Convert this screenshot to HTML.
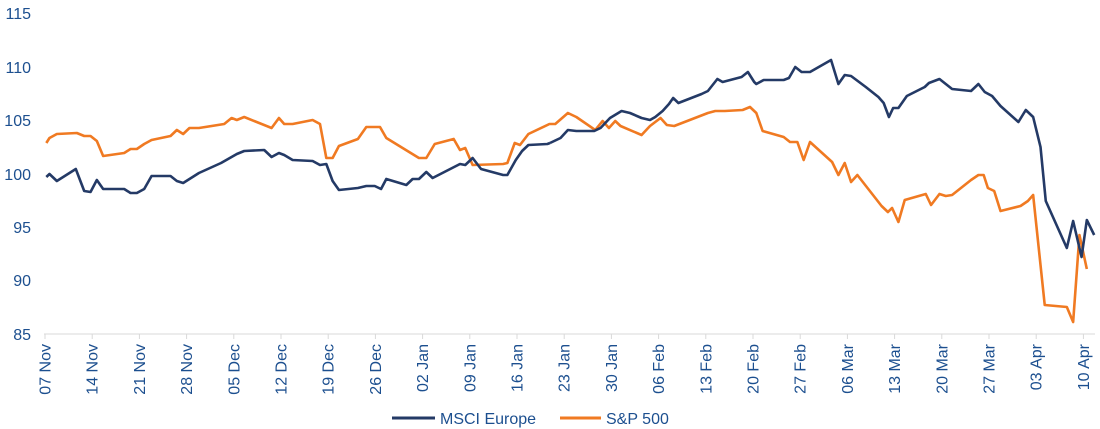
<!DOCTYPE html>
<html><head><meta charset="utf-8"><style>
body{margin:0;background:#fff;}
svg{display:block;font-family:"Liberation Sans",sans-serif;}
.yl{font-size:16px;fill:#1c4f8f;text-anchor:end;}
.xl{font-size:16px;fill:#1c4f8f;text-anchor:end;}
polyline{vector-effect:non-scaling-stroke;}
</style></head><body>
<svg width="1100" height="429" viewBox="0 0 1100 429">
<g class="yl">
<text x="31" y="19">115</text><text x="31" y="73">110</text><text x="31" y="126">105</text>
<text x="31" y="180">100</text><text x="31" y="233">95</text><text x="31" y="286">90</text><text x="31" y="340">85</text>
</g>
<line x1="44" y1="334" x2="1095" y2="334" stroke="#d9d9d9" stroke-width="1"/>
<g stroke="#d9d9d9" stroke-width="1">
<line x1="45" y1="334" x2="45" y2="339"/><line x1="92.2" y1="334" x2="92.2" y2="339"/><line x1="139.4" y1="334" x2="139.4" y2="339"/><line x1="186.6" y1="334" x2="186.6" y2="339"/><line x1="233.8" y1="334" x2="233.8" y2="339"/><line x1="281" y1="334" x2="281" y2="339"/><line x1="328.2" y1="334" x2="328.2" y2="339"/><line x1="375.4" y1="334" x2="375.4" y2="339"/><line x1="422.6" y1="334" x2="422.6" y2="339"/><line x1="469.8" y1="334" x2="469.8" y2="339"/><line x1="517" y1="334" x2="517" y2="339"/><line x1="564.2" y1="334" x2="564.2" y2="339"/><line x1="611.4" y1="334" x2="611.4" y2="339"/><line x1="658.6" y1="334" x2="658.6" y2="339"/><line x1="705.8" y1="334" x2="705.8" y2="339"/><line x1="753" y1="334" x2="753" y2="339"/><line x1="800.2" y1="334" x2="800.2" y2="339"/><line x1="847.4" y1="334" x2="847.4" y2="339"/><line x1="894.6" y1="334" x2="894.6" y2="339"/><line x1="941.8" y1="334" x2="941.8" y2="339"/><line x1="989" y1="334" x2="989" y2="339"/><line x1="1036.2" y1="334" x2="1036.2" y2="339"/><line x1="1083.4" y1="334" x2="1083.4" y2="339"/>
</g>
<g class="xl">
<text transform="translate(50.5,344) rotate(-90)">07 Nov</text>
<text transform="translate(97.7,344) rotate(-90)">14 Nov</text>
<text transform="translate(144.9,344) rotate(-90)">21 Nov</text>
<text transform="translate(192.1,344) rotate(-90)">28 Nov</text>
<text transform="translate(239.3,344) rotate(-90)">05 Dec</text>
<text transform="translate(286.5,344) rotate(-90)">12 Dec</text>
<text transform="translate(333.7,344) rotate(-90)">19 Dec</text>
<text transform="translate(380.9,344) rotate(-90)">26 Dec</text>
<text transform="translate(428.1,344) rotate(-90)">02 Jan</text>
<text transform="translate(475.3,344) rotate(-90)">09 Jan</text>
<text transform="translate(522.5,344) rotate(-90)">16 Jan</text>
<text transform="translate(569.7,344) rotate(-90)">23 Jan</text>
<text transform="translate(616.9,344) rotate(-90)">30 Jan</text>
<text transform="translate(664.1,344) rotate(-90)">06 Feb</text>
<text transform="translate(711.3,344) rotate(-90)">13 Feb</text>
<text transform="translate(758.5,344) rotate(-90)">20 Feb</text>
<text transform="translate(805.7,344) rotate(-90)">27 Feb</text>
<text transform="translate(852.9,344) rotate(-90)">06 Mar</text>
<text transform="translate(900.1,344) rotate(-90)">13 Mar</text>
<text transform="translate(947.3,344) rotate(-90)">20 Mar</text>
<text transform="translate(994.5,344) rotate(-90)">27 Mar</text>
<text transform="translate(1041.7,344) rotate(-90)">03 Apr</text>
<text transform="translate(1088.9,344) rotate(-90)">10 Apr</text>
</g>
<g transform="scale(1.0526,1)" fill="none" stroke-width="2.6" stroke-linejoin="round">
<polyline stroke="#f07a22" points="44,143 47,138 54,134 73,133 80,136 86,136 92,141 98,156 118,153 124,149 130,149 137,144 144,140 162,136 168,130 174,134 180,128 189,128 213,124 220,118 225,120 232,117 258,128 265,118 270,124 278,124 297,120 304,124 310,158 316,158 322,146 340,139 348,127 361,127 367,138 398,158 405,158 413,144 431,139 437,150 442,148 449,165 478,164 482,163 489,143 494,145 502,134 522,124 522.5,124"/>
<polyline stroke="#243a66" points="44,177 47,174 54,181 72,169 80,191 86,192 92,180 98,189 118,189 124,193 130,193 137,189 144,176 162,176 168,181 174,183 180,179 189,173 210,163 225,154 232,151 251,150 258,157 265,153 270,155 278,160 297,161 304,165 310,164 316,181 322,190 340,188 348,186 356,186 362,189 367,179 386,185 392,179 398,179 405,172 411,178 437,164 442,165 449,158 457,169 478,175 482,175 490,160 496,151 502,145 520,144 522.5,143"/>
</g>
<g transform="translate(550,0) scale(1.0526,1) translate(-550,0)" fill="none" stroke-width="2.6" stroke-linejoin="round">
<polyline stroke="#f07a22" points="550,124 555,124 567,113 575,117 593,130 600,121 606,128 612,121 617,126 637,135 645,126 655,118 661,125 668,126 700,113 707,111 716,111 733,110 740,107 746,113 752,131 772,137 778,142 785,142 791,160 797,142 818,162 824,175 830,163 836,182 842,175 865,206 871,212 875,208 881,222 887,200 907,194 912,205 920,194 926,196 932,195 950,180 957,175 962,175 966,188 972,191 978,211 997,206 1004,201 1009,195 1020,305 1041,307 1047,322 1053,235 1060,269"/>
<polyline stroke="#243a66" points="550,143 560,138 567,130 575,131 592,131 598,128 607,118 618,111 626,113 637,118 645,120 650,117 657,111 663,104 667,98 672,103 694,94 700,91 709,79 714,82 732,77 738,72 744,82 746,84 753,80 772,80 777,78 783,67 789,72 797,72 817,60 824,84 830,75 836,76 850,87 862,97 867,103 872,117 876,108 881,108 889,96 906,87 910,83 920,79 926,84 932,89 950,91 957,84 963,92 970,96 978,106 995,122 1002,110 1009,117 1016,147 1021,201 1041,248 1047,221 1055,257 1060,220 1067,235"/>
</g>
<line x1="392" y1="418" x2="435" y2="418" stroke="#243a66" stroke-width="3"/>
<text x="440" y="424" font-size="16" fill="#1c4f8f">MSCI Europe</text>
<line x1="560" y1="418" x2="601" y2="418" stroke="#f07a22" stroke-width="3"/>
<text x="606" y="424" font-size="16" fill="#1c4f8f">S&amp;P 500</text>
</svg>
</body></html>
